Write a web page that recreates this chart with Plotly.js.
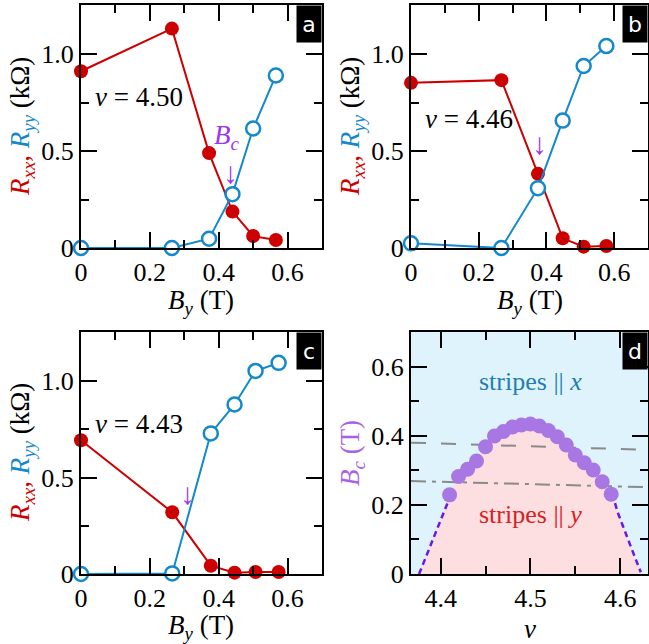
<!DOCTYPE html>
<html>
<head>
<meta charset="utf-8">
<script src="https://cdn.plot.ly/plotly-3.0.1.min.js"></script>
<style>html,body{margin:0;padding:0;background:#fff;}#chart{width:649px;height:644px;}</style>
</head>
<body>
<div id="chart"></div>
<script>
// ---------- DATA ----------
// panel a (nu = 4.50)
const aBy   = [0, 0.264, 0.372, 0.44, 0.50, 0.566];
const aRxx  = [0.913, 1.133, 0.49, 0.188, 0.062, 0.041];
const aRyy  = [0.0, 0.0, 0.048, 0.278, 0.617, 0.891];
// panel b (nu = 4.46)
const bBy   = [0, 0.267, 0.375, 0.448, 0.51, 0.577];
const bRxx  = [0.853, 0.867, 0.383, 0.05, 0.007, 0.01];
const bRyy  = [0.024, 0.0, 0.309, 0.658, 0.94, 1.043];
// panel c (nu = 4.43)
const cBy   = [0, 0.265, 0.377, 0.446, 0.507, 0.574];
const cRxx  = [0.694, 0.32, 0.043, 0.007, 0.01, 0.01];
const cRyy  = [0.0, 0.003, 0.729, 0.879, 1.053, 1.095];
// panel d: critical field vs filling factor
const dNu = [4.41, 4.42, 4.43, 4.44, 4.45, 4.46, 4.47, 4.48, 4.49, 4.50,
             4.51, 4.52, 4.53, 4.54, 4.55, 4.56, 4.57, 4.58, 4.59];
const dBc = [0.229, 0.282, 0.303, 0.327, 0.368, 0.399, 0.412, 0.425, 0.431, 0.434,
             0.428, 0.415, 0.397, 0.373, 0.344, 0.322, 0.301, 0.267, 0.231];
// phase boundary (dashed curve ends)
const leftNu  = [4.376, 4.383, 4.390, 4.397, 4.404, 4.410];
const leftBc  = [0.000, 0.045, 0.090, 0.135, 0.180, 0.220];
const rightNu = [4.592, 4.597, 4.604, 4.611, 4.617, 4.623];
const rightBc = [0.225, 0.180, 0.130, 0.085, 0.045, 0.005];
// gray reference lines
const refNu      = [4.367, 4.631];
const dashBc     = [0.380, 0.359];
const dashDotBc  = [0.269, 0.251];
// tick labels
const rTickVals = [0, 0.5, 1.0];
const rTickText = ['0', '0.5', '1.0'];
const bTickVals = [0, 0.2, 0.4, 0.6];
const bTickText = ['0', '0.2', '0.4', '0.6'];
const nuTickVals = [4.4, 4.5, 4.6];
const nuTickText = ['4.4', '4.5', '4.6'];
const bcTickVals = [0, 0.2, 0.4, 0.6];
const bcTickText = ['0', '0.2', '0.4', '0.6'];
const panelNu = ['4.50', '4.46', '4.43'];

// ---------- STYLE ----------
const W = 649, H = 644;
const RED = '#cc0000', BLUE = '#1389cc', PURP = '#9a35f2', DOT = '#a877e4';
const FONT = '"Liberation Serif", "Times New Roman", Times, "DejaVu Serif", serif';
const FS = 27;
const px = v => v / W, py = v => 1 - v / H;

const doms = {
  a: {x: [px(81), px(322)], y: [py(248), py(5)]},
  b: {x: [px(411), px(648)], y: [py(248), py(5)]},
  c: {x: [px(81), px(322)], y: [py(574), py(332)]},
  d: {x: [px(411), px(648)], y: [py(574), py(332)]}
};

function axis(dom, range, tv, tt, minorVals, anchor) {
  return {
    domain: dom, range: range, anchor: anchor,
    tickmode: 'array', tickvals: tv, ticktext: tt,
    ticks: 'inside', ticklen: 16, tickwidth: 2, tickcolor: '#000',
    minor: {tickmode: 'array', tickvals: minorVals, ticks: 'inside', ticklen: 8, tickwidth: 2, tickcolor: '#000'},
    showline: true, linecolor: '#000', linewidth: 2, mirror: 'allticks',
    showgrid: false, zeroline: false,
    tickfont: {family: FONT, size: 26, color: '#000'}
  };
}

function rxxTrace(x, y, xa, ya) {
  return {x: x, y: y, xaxis: xa, yaxis: ya, type: 'scatter', mode: 'lines+markers',
    line: {color: RED, width: 2}, marker: {color: RED, size: 14, symbol: 'circle'},
    cliponaxis: false, showlegend: false};
}
function ryyTrace(x, y, xa, ya) {
  return {x: x, y: y, xaxis: xa, yaxis: ya, type: 'scatter', mode: 'lines+markers',
    line: {color: BLUE, width: 2}, marker: {color: '#fff', size: 14, symbol: 'circle', line: {color: BLUE, width: 2.5}},
    cliponaxis: false, showlegend: false};
}

const boundNu = leftNu.concat(dNu, rightNu);
const boundBc = leftBc.concat(dBc, rightBc);

const data = [
  rxxTrace(aBy, aRxx, 'x', 'y'), ryyTrace(aBy, aRyy, 'x', 'y'),
  rxxTrace(bBy, bRxx, 'x2', 'y2'), ryyTrace(bBy, bRyy, 'x2', 'y2'),
  rxxTrace(cBy, cRxx, 'x3', 'y3'), ryyTrace(cBy, cRyy, 'x3', 'y3'),
  {x: boundNu, y: boundBc, xaxis: 'x4', yaxis: 'y4', type: 'scatter', mode: 'lines',
   fill: 'tozeroy', fillcolor: '#fddfe1', line: {width: 0, color: 'rgba(0,0,0,0)'}, showlegend: false, hoverinfo: 'skip'},
  {x: leftNu.concat(dNu.slice(0, 1)), y: leftBc.concat(dBc.slice(0, 1)), xaxis: 'x4', yaxis: 'y4', type: 'scatter', mode: 'lines',
   line: {color: '#6a18e6', width: 2.5, dash: '6px,4px'}, showlegend: false},
  {x: dNu.slice(-1).concat(rightNu), y: dBc.slice(-1).concat(rightBc), xaxis: 'x4', yaxis: 'y4', type: 'scatter', mode: 'lines',
   line: {color: '#6a18e6', width: 2.5, dash: '6px,4px'}, showlegend: false},
  {x: refNu, y: dashBc, xaxis: 'x4', yaxis: 'y4', type: 'scatter', mode: 'lines',
   line: {color: '#8a8a8a', width: 2, dash: '15px,15px'}, showlegend: false},
  {x: refNu, y: dashDotBc, xaxis: 'x4', yaxis: 'y4', type: 'scatter', mode: 'lines',
   line: {color: '#8a8a8a', width: 2, dash: '15px,6px,4px,6px'}, showlegend: false},
  {x: dNu, y: dBc, xaxis: 'x4', yaxis: 'y4', type: 'scatter', mode: 'markers',
   marker: {color: DOT, size: 15}, cliponaxis: false, showlegend: false}
];

const yTitle = '<span style="color:' + RED + '"><i>R</i><sub><i>xx</i></sub>,</span> ' +
               '<span style="color:' + BLUE + '"><i>R</i><sub><i>yy</i></sub></span> (kΩ)';
const xTitle = '<i>B</i><sub><i>y</i></sub> (T)';

const annotations = [];
function ann(o) { annotations.push(Object.assign({showarrow: false, font: {family: FONT, size: FS, color: '#000'}}, o)); }

// y titles
ann({xref: 'paper', yref: 'paper', x: px(22), y: py(127), text: yTitle, textangle: -90, xanchor: 'center', yanchor: 'middle'});
ann({xref: 'paper', yref: 'paper', x: px(352), y: py(127), text: yTitle, textangle: -90, xanchor: 'center', yanchor: 'middle'});
ann({xref: 'paper', yref: 'paper', x: px(22), y: py(453), text: yTitle, textangle: -90, xanchor: 'center', yanchor: 'middle'});
ann({xref: 'paper', yref: 'paper', x: px(352), y: py(453), text: '<i>B</i><sub><i>c</i></sub> (T)', textangle: -90,
     xanchor: 'center', yanchor: 'middle', font: {family: FONT, size: FS, color: '#a862e8'}});
// x titles
ann({xref: 'paper', yref: 'paper', x: px(201), y: py(302), text: xTitle, xanchor: 'center', yanchor: 'middle'});
ann({xref: 'paper', yref: 'paper', x: px(530), y: py(302), text: xTitle, xanchor: 'center', yanchor: 'middle'});
ann({xref: 'paper', yref: 'paper', x: px(201), y: py(627), text: xTitle, xanchor: 'center', yanchor: 'middle'});
ann({xref: 'paper', yref: 'paper', x: px(530), y: py(629), text: '<i>ν</i>', xanchor: 'center', yanchor: 'middle'});
// nu labels
ann({xref: 'x', yref: 'y', x: 0.035, y: 0.78, text: '<i>ν</i> = ' + panelNu[0], xanchor: 'left', yanchor: 'middle'});
ann({xref: 'x2', yref: 'y2', x: 0.035, y: 0.665, text: '<i>ν</i> = ' + panelNu[1], xanchor: 'left', yanchor: 'middle'});
ann({xref: 'x3', yref: 'y3', x: 0.035, y: 0.78, text: '<i>ν</i> = ' + panelNu[2], xanchor: 'left', yanchor: 'middle'});
// B_c markers
ann({xref: 'x', yref: 'y', x: 0.425, y: 0.575, text: '<i>B</i><sub><i>c</i></sub>', xanchor: 'center', yanchor: 'middle',
     font: {family: FONT, size: FS, color: PURP}});
ann({xref: 'x', yref: 'y', x: 0.433, y: 0.39, text: '↓', xanchor: 'center', yanchor: 'middle', font: {family: FONT, size: 30, color: PURP}});
ann({xref: 'x2', yref: 'y2', x: 0.38, y: 0.54, text: '↓', xanchor: 'center', yanchor: 'middle', font: {family: FONT, size: 30, color: PURP}});
ann({xref: 'x3', yref: 'y3', x: 0.308, y: 0.42, text: '↓', xanchor: 'center', yanchor: 'middle', font: {family: FONT, size: 30, color: PURP}});
// stripes labels
ann({xref: 'x4', yref: 'y4', x: 4.5, y: 0.556, text: 'stripes || <i>x</i>', xanchor: 'center', yanchor: 'middle',
     font: {family: FONT, size: 26, color: '#1f7fae'}});
ann({xref: 'x4', yref: 'y4', x: 4.5, y: 0.171, text: 'stripes || <i>y</i>', xanchor: 'center', yanchor: 'middle',
     font: {family: FONT, size: 26, color: '#d42222'}});
// panel letters
const letters = [['a', 322, 5], ['b', 648, 5], ['c', 322, 332], ['d', 648, 332]];
letters.forEach(function (l) {
  ann({xref: 'paper', yref: 'paper', x: px(l[1]), y: py(l[2]), text: l[0], xanchor: 'right', yanchor: 'top',
       bgcolor: '#000', width: 22, height: 34, borderpad: 1, valign: 'middle', align: 'center',
       font: {family: 'DejaVu Sans', size: 22, color: '#fff'}});
});

const layout = {
  width: W, height: H, margin: {l: 0, r: 0, t: 0, b: 0},
  paper_bgcolor: '#fff', plot_bgcolor: 'rgba(0,0,0,0)', showlegend: false,
  font: {family: FONT},
  xaxis:  axis(doms.a.x, [0, 0.7], bTickVals, bTickText, [0.1, 0.3, 0.5], 'y'),
  yaxis:  axis(doms.a.y, [0, 1.255], rTickVals, rTickText, [0.25, 0.75], 'x'),
  xaxis2: axis(doms.b.x, [0, 0.7], bTickVals, bTickText, [0.1, 0.3, 0.5], 'y2'),
  yaxis2: axis(doms.b.y, [0, 1.255], rTickVals, rTickText, [0.25, 0.75], 'x2'),
  xaxis3: axis(doms.c.x, [0, 0.7], bTickVals, bTickText, [0.1, 0.3, 0.5], 'y3'),
  yaxis3: axis(doms.c.y, [0, 1.255], rTickVals, rTickText, [0.25, 0.75], 'x3'),
  xaxis4: axis(doms.d.x, [4.367, 4.631], nuTickVals, nuTickText, [4.45, 4.55], 'y4'),
  yaxis4: axis(doms.d.y, [0, 0.7], bcTickVals, bcTickText, [0.1, 0.3, 0.5], 'x4'),
  shapes: [{type: 'rect', xref: 'x4 domain', yref: 'y4 domain', x0: 0, x1: 1, y0: 0, y1: 1,
            fillcolor: '#dff3fc', line: {width: 0}, layer: 'below'}],
  annotations: annotations
};

Plotly.newPlot('chart', data, layout, {staticPlot: true, displayModeBar: false});
</script>
</body>
</html>
